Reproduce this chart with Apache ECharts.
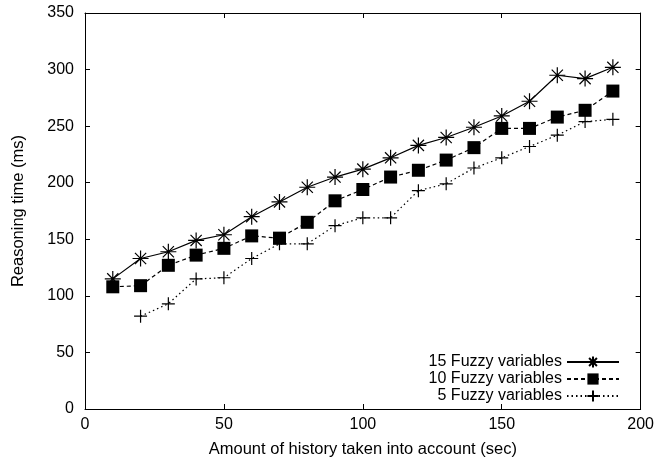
<!DOCTYPE html>
<html>
<head>
<meta charset="utf-8">
<script src="https://cdn.jsdelivr.net/npm/echarts@6/dist/echarts.min.js"></script>
<style>
  html, body { margin: 0; padding: 0; background: #fff; }
  #chart { width: 657px; height: 463px; }
</style>
</head>
<body>
<div id="chart"></div>
<script>
// history (sec)
var seconds = [10, 20, 30, 40, 50, 60, 70, 80, 90, 100, 110, 120, 130, 140, 150, 160, 170, 180, 190];
// reasoning time (ms)
var fuzzy15 = [115, 133, 139, 149, 154, 170, 183, 196, 205, 212, 222, 233, 240, 249, 259, 272, 295, 292, 302];
var fuzzy10 = [108, 109, 127, 136, 142, 153, 151, 165, 184, 194, 205, 211, 220, 231, 248, 248, 258, 264, 281];
var fuzzy5 = [null, 82, 93, 115, 116, 133, 146, 146, 162, 169, 169, 193, 199, 213, 222, 232, 242, 254, 256];
var xTicks = [0, 50, 100, 150, 200];
var yTicks = [0, 50, 100, 150, 200, 250, 300, 350];
var seriesNames = ['15 Fuzzy variables', '10 Fuzzy variables', '5 Fuzzy variables'];

var font = 'Liberation Sans, Arial, sans-serif';
var starPath = 'path://M0,-10L0,10M-10,0L10,0M-7,-7L7,7M-7,7L7,-7';
var plusPath = 'path://M0,-10L0,10M-10,0L10,0';

function pairs(vals) {
  var out = [];
  vals.forEach(function (v, i) {
    if (v != null) out.push([seconds[i], v]);
  });
  return out;
}

var chart = echarts.init(document.getElementById('chart'), null, { renderer: 'canvas' });

var axisLine = { show: true, onZero: false, lineStyle: { color: '#000', width: 1 } };
var tick = { show: true, inside: true, length: 5, lineStyle: { color: '#000' } };

var option = {
  animation: false,
  backgroundColor: '#fff',
  textStyle: { fontFamily: font },
  grid: { left: 85, right: 16, top: 13, bottom: 52 },
  xAxis: [
    {
      type: 'value', min: 0, max: 200, interval: 50,
      name: 'Amount of history taken into account (sec)',
      nameLocation: 'middle', nameGap: 32,
      nameTextStyle: { color: '#000', fontSize: 16.5, fontFamily: font },
      axisLine: axisLine, axisTick: tick,
      axisLabel: { color: '#000', fontSize: 16, margin: 8, fontFamily: font },
      splitLine: { show: false }
    },
    {
      type: 'value', position: 'top', min: 0, max: 200, interval: 50,
      axisLine: axisLine, axisTick: tick, axisLabel: { show: false }, splitLine: { show: false }
    }
  ],
  yAxis: [
    {
      type: 'value', min: 0, max: 350, interval: 50,
      name: 'Reasoning time (ms)',
      nameLocation: 'middle', nameGap: 58, nameRotate: 90,
      nameTextStyle: { color: '#000', fontSize: 16.5, fontFamily: font },
      axisLine: axisLine, axisTick: tick,
      axisLabel: { color: '#000', fontSize: 16, margin: 11, fontFamily: font },
      splitLine: { show: false }
    },
    {
      type: 'value', position: 'right', min: 0, max: 350, interval: 50,
      axisLine: axisLine, axisTick: tick, axisLabel: { show: false }, splitLine: { show: false }
    }
  ],
  legend: [0, 1, 2].map(function (i) {
    return {
      data: [seriesNames[i]],
      right: 37, top: 354 + i * 17,
      align: 'right', itemWidth: 52, itemHeight: 14,
      padding: 0,
      textStyle: { color: '#000', fontSize: 16, fontFamily: font }
    };
  }),
  series: [
    {
      name: seriesNames[0], type: 'line', data: pairs(fuzzy15),
      symbol: starPath, symbolSize: 16,
      lineStyle: { color: '#000', width: 1.2, type: 'solid' },
      itemStyle: { color: 'rgba(0,0,0,0)', borderColor: '#000', borderWidth: 1.2 }
    },
    {
      name: seriesNames[1], type: 'line', data: pairs(fuzzy10),
      symbol: 'rect', symbolSize: 13,
      lineStyle: { color: '#000', width: 1.2, type: [4, 3] },
      itemStyle: { color: '#000' }
    },
    {
      name: seriesNames[2], type: 'line', data: pairs(fuzzy5),
      symbol: plusPath, symbolSize: 13,
      lineStyle: { color: '#000', width: 1.2, type: [1.5, 3] },
      itemStyle: { color: 'rgba(0,0,0,0)', borderColor: '#000', borderWidth: 1.2 }
    }
  ]
};

chart.setOption(option);
</script>
</body>
</html>
